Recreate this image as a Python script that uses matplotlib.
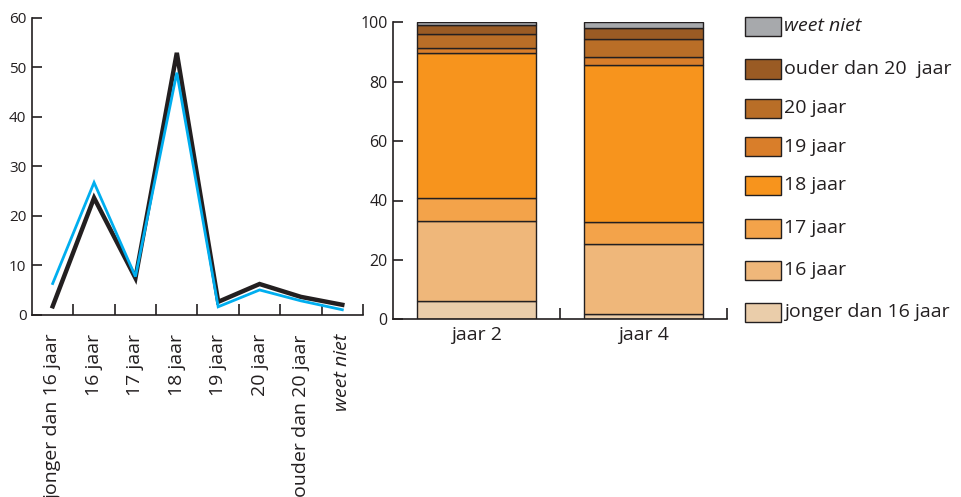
import numpy as np
import matplotlib
matplotlib.use('Agg')
from matplotlib import pyplot as plt
from matplotlib.patches import Rectangle

# Data (percentages per age group)
categories = ['jonger dan 16 jaar', '16 jaar', '17 jaar', '18 jaar',
              '19 jaar', '20 jaar', 'ouder dan 20 jaar', 'weet niet']
legendLabels = ['jonger dan 16 jaar', '16 jaar', '17 jaar', '18 jaar',
                '19 jaar', '20 jaar', 'ouder dan 20  jaar', 'weet niet']
years = ['jaar 2', 'jaar 4']
jaar2 = [6.3, 26.7, 7.7, 48.9, 1.6, 5.0, 2.8, 1.0]
jaar4 = [1.7, 23.6, 7.4, 52.9, 2.6, 6.2, 3.6, 2.0]

colors = ['#EACDAA', '#EFB77A', '#F3A34A', '#F7941D',
          '#D97E2A', '#B96E27', '#9A5B24', '#A7A9AC']
dark = '#231F20'
blue = '#00AEEF'

plt.rcParams['font.family'] = ['Open Sans', 'DejaVu Sans']

W, H = 962, 497
fig = plt.figure(figsize=(W / 100.0, H / 100.0), dpi=100)

def px(x0, y0, x1, y1):
    # pixel box (top-left origin) to figure fraction rect
    return [x0 / W, 1 - y1 / H, (x1 - x0) / W, (y1 - y0) / H]

# ---- Left: line chart ----
ax1 = fig.add_axes(px(32, 17.7, 363, 314.7))
ind = np.arange(len(categories))
ax1.plot(ind, jaar4, color=dark, lw=3.2, solid_joinstyle='miter', zorder=2)
ax1.plot(ind, jaar2, color=blue, lw=2.0, solid_joinstyle='miter', zorder=3)
ax1.set_xlim(-0.5, len(categories) - 0.5)
ax1.set_ylim(0, 60)
ax1.set_yticks(np.arange(0, 61, 10))
ax1.set_xticks(ind)
ax1.set_xticklabels(categories, rotation=90, va='top', ha='center', fontsize=14, color=dark)
ax1.get_xticklabels()[-1].set_fontstyle('italic')
ax1.set_xticks(list(ind + 0.5), minor=True)
ax1.tick_params(axis='x', which='major', length=0, pad=14)
ax1.tick_params(axis='x', which='minor', direction='in', length=8, width=1.2, color=dark)
ax1.tick_params(axis='y', direction='in', length=7, width=1.2, color=dark,
                labelsize=11, labelcolor=dark, pad=4)
for s in ['top', 'right']:
    ax1.spines[s].set_visible(False)
for s in ['left', 'bottom']:
    ax1.spines[s].set_color(dark)
    ax1.spines[s].set_linewidth(1.2)

# ---- Right: stacked bars ----
ax2 = fig.add_axes(px(393.3, 22.3, 727, 319.3))
pos = np.arange(len(years))
bottoms = np.zeros(len(years))
for i in range(len(categories)):
    vals = np.array([jaar2[i], jaar4[i]])
    ax2.bar(pos, vals, 0.716, bottom=bottoms, color=colors[i],
            edgecolor=dark, linewidth=1.0)
    bottoms += vals
ax2.set_xlim(-0.5, 1.5)
ax2.set_ylim(0, 100)
ax2.set_yticks(np.arange(0, 101, 20))
ax2.set_xticks(pos)
ax2.set_xticklabels(years, fontsize=14, color=dark)
ax2.set_xticks([0.5, 1.5], minor=True)
ax2.tick_params(axis='x', which='major', length=0, pad=5)
ax2.tick_params(axis='x', which='minor', direction='in', length=8, width=1.2, color=dark)
ax2.tick_params(axis='y', direction='in', length=7, width=1.2, color=dark,
                labelsize=11.5, labelcolor=dark, pad=4)
for s in ['top', 'right']:
    ax2.spines[s].set_visible(False)
for s in ['left', 'bottom']:
    ax2.spines[s].set_color(dark)
    ax2.spines[s].set_linewidth(1.2)

# ---- Legend (manual, top = weet niet) ----
rowY = [312.3, 270, 228.3, 185, 146.7, 108.3, 69, 26.3]
for i in range(len(categories)):
    r = px(745, rowY[i] - 9.5, 781, rowY[i] + 9.5)
    fig.patches.append(Rectangle((r[0], r[1]), r[2], r[3], transform=fig.transFigure,
                                 facecolor=colors[i], edgecolor=dark, linewidth=1.0))
    style = 'italic' if i == len(categories) - 1 else 'normal'
    fig.text(784 / W, 1 - rowY[i] / H, legendLabels[i], fontsize=14, color=dark,
             va='center', ha='left', fontstyle=style)

plt.savefig('out.png', dpi=100)
